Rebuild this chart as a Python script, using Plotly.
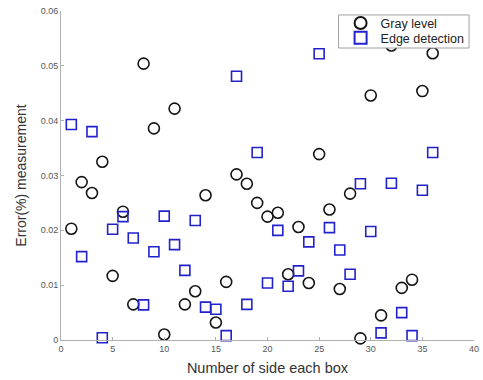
import plotly.graph_objects as go

x_vals = list(range(1, 37))
gray_level = [0.0203, 0.0288, 0.0268, 0.0325, 0.0117, 0.0234, 0.0065, 0.0504, 0.0386,
              0.0010, 0.0422, 0.0065, 0.0089, 0.0264, 0.0032, 0.0106, 0.0302, 0.0285,
              0.0250, 0.0225, 0.0232, 0.0120, 0.0206, 0.0104, 0.0339, 0.0238, 0.0093,
              0.0267, 0.0003, 0.0446, 0.0045, 0.0537, 0.0095, 0.0110, 0.0454, 0.0523]
edge_detection = [0.0393, 0.0152, 0.0380, 0.0004, 0.0202, 0.0225, 0.0186, 0.0064, 0.0161,
                  0.0226, 0.0174, 0.0127, 0.0218, 0.0060, 0.0056, 0.0008, 0.0481, 0.0065,
                  0.0342, 0.0104, 0.0200, 0.0098, 0.0126, 0.0179, 0.0522, 0.0205, 0.0164,
                  0.0120, 0.0285, 0.0198, 0.0013, 0.0286, 0.0050, 0.0008, 0.0273, 0.0342]
x_ticks = [0, 5, 10, 15, 20, 25, 30, 35, 40]
y_ticks = [0, 0.01, 0.02, 0.03, 0.04, 0.05, 0.06]
y_tick_labels = ["0", "0.01", "0.02", "0.03", "0.04", "0.05", "0.06"]

series = [
    ("Gray level", gray_level, "legend",
     dict(symbol="circle-open", size=11, color="#151515", line=dict(width=1.6, color="#151515"))),
    ("Edge detection", edge_detection, "legend2",
     dict(symbol="square-open", size=10, color="#2222cc", line=dict(width=1.6, color="#2222cc"))),
]

fig = go.Figure()
for name, values, leg, marker in series:
    fig.add_trace(go.Scatter(
        x=x_vals, y=values, mode="markers", name=name,
        legend=leg, marker=marker, cliponaxis=False,
    ))

axis_common = dict(
    showgrid=False, zeroline=False, showline=True, linecolor="#b0b0b0", linewidth=1,
    ticks="inside", ticklen=3, tickcolor="#b0b0b0", mirror=False,
    ticklabeloverflow="allow",
    tickfont=dict(family="Arial, Liberation Sans, sans-serif", size=9, color="#555555"),
)

legend_common = dict(
    xanchor="left", yanchor="top", bgcolor="rgba(0,0,0,0)", borderwidth=0,
    font=dict(size=12.5, color="#222222"), itemsizing="constant", tracegroupgap=0,
)

fig.update_layout(
    width=483, height=380,
    margin=dict(l=61, r=4, t=11, b=40),
    paper_bgcolor="white", plot_bgcolor="white",
    font=dict(family="Arial, Liberation Sans, sans-serif", color="#333333"),
    xaxis=dict(range=[0, 40], tickvals=x_ticks, ticktext=[str(v) for v in x_ticks],
               title=dict(text="Number of side each box", font=dict(size=14.5, color="#333333"), standoff=10),
               **axis_common),
    yaxis=dict(range=[0, 0.06], tickvals=y_ticks, ticktext=y_tick_labels,
               title=dict(text="Error(%) measurement", font=dict(size=14, color="#333333"), standoff=10),
               **axis_common),
    legend=dict(x=0.677, y=1.008, **legend_common),
    legend2=dict(x=0.677, y=0.9635, **legend_common),
    showlegend=True,
)
# legend frame (white box drawn above the markers, the two legend entries sit on it)
fig.add_shape(type="rect", xref="paper", yref="paper", x0=0.672, x1=0.988, y0=0.8875, y1=0.988,
              line=dict(color="#a0a0a0", width=1), fillcolor="#ffffff", opacity=1, layer="above")

fig.write_html("out.html", config={"displayModeBar": False},
               post_script="document.body.style.margin='0';document.body.style.overflow='hidden';")
